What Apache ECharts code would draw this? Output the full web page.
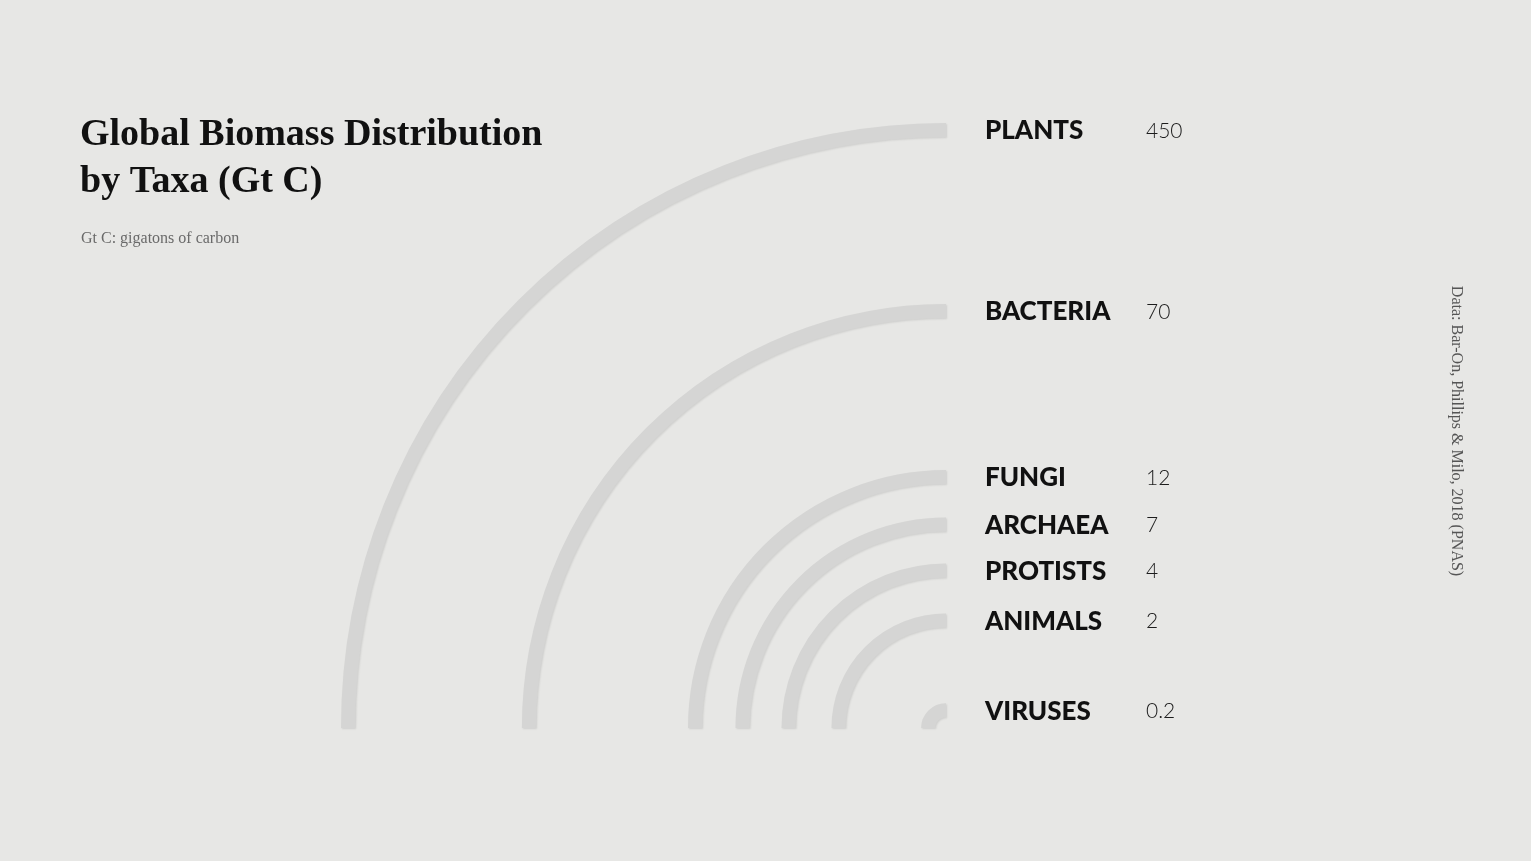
<!DOCTYPE html>
<html>
<head>
<meta charset="utf-8">
<title>Global Biomass Distribution by Taxa</title>
<style>
html,body{margin:0;padding:0;width:100%;height:100%;background:#e7e7e5;overflow:hidden;}
#main{position:absolute;left:0;top:0;width:1531px;height:861px;}
</style>
</head>
<body>
<div id="main"></div>
<script src="https://cdn.jsdelivr.net/npm/echarts@6/dist/echarts.min.js"></script>
<script>
var taxa=['PLANTS','BACTERIA','FUNGI','ARCHAEA','PROTISTS','ANIMALS','VIRUSES'];
var biomass=[450,70,12,7,4,2,0.2];
var valueLabels=['450','70','12','7','4','2','0.2'];

var cx=946, cy=728;
var arcWidth=14;

var myChart=echarts.init(document.getElementById('main'));

// log scale of (value + 1), so the smallest taxon still gets a ring
var seriesData=[];
for(var i=0;i<taxa.length;i++){
	seriesData.push([biomass[i]+1,90,i]);
}

function renderArc(params,api){
	var idx=api.value(2);
	var pt=api.coord([api.value(0),api.value(1)]);
	var r=Math.sqrt((pt[0]-cx)*(pt[0]-cx)+(pt[1]-cy)*(pt[1]-cy));
	return {
		type:'group',
		children:[
			{
				type:'arc',
				shape:{cx:cx,cy:cy,r:r,startAngle:Math.PI,endAngle:Math.PI*1.5,clockwise:true},
				style:{stroke:'#d5d5d4',lineWidth:arcWidth,fill:null,lineCap:'butt',
					shadowColor:'rgba(0,0,0,0.10)',shadowBlur:2,shadowOffsetX:1,shadowOffsetY:1}
			},
			{
				type:'text',
				x:985,y:cy-r+1,
				style:{text:taxa[idx],fill:'#111',font:'900 26px Lato, "Noto Sans", sans-serif',
					align:'left',verticalAlign:'middle'}
			},
			{
				type:'text',
				x:1146,y:cy-r+1,
				style:{text:valueLabels[idx],fill:'#1c1c1c',font:'300 21px Lato, "Noto Sans", sans-serif',
					align:'left',verticalAlign:'middle'}
			}
		]
	};
}

var option={
	backgroundColor:'#e7e7e5',
	animation:false,
	polar:{center:[cx,cy],radius:[0,598]},
	angleAxis:{type:'value',min:0,max:360,show:false,splitLine:{show:false}},
	radiusAxis:{type:'log',logBase:10,min:1,max:451,show:false,splitLine:{show:false}},
	graphic:[
		{type:'text',left:80,top:112,style:{text:'Global Biomass Distribution\nby Taxa (Gt C)',
			fill:'#111',font:'bold 38px "Liberation Serif", serif',lineHeight:47}},
		{type:'text',left:81,top:231,style:{text:'Gt C: gigatons of carbon',
			fill:'#6a6a6a',font:'16px "Liberation Serif", serif'}},
		{type:'text',x:1456,y:431,rotation:-Math.PI/2,style:{text:'Data: Bar-On, Phillips & Milo, 2018 (PNAS)',
			fill:'#555',font:'16px "Liberation Serif", serif',align:'center',verticalAlign:'middle'}}
	],
	series:[{
		type:'custom',
		coordinateSystem:'polar',
		renderItem:renderArc,
		data:seriesData,
		silent:true
	}]
};
myChart.setOption(option);
</script>
</body>
</html>
